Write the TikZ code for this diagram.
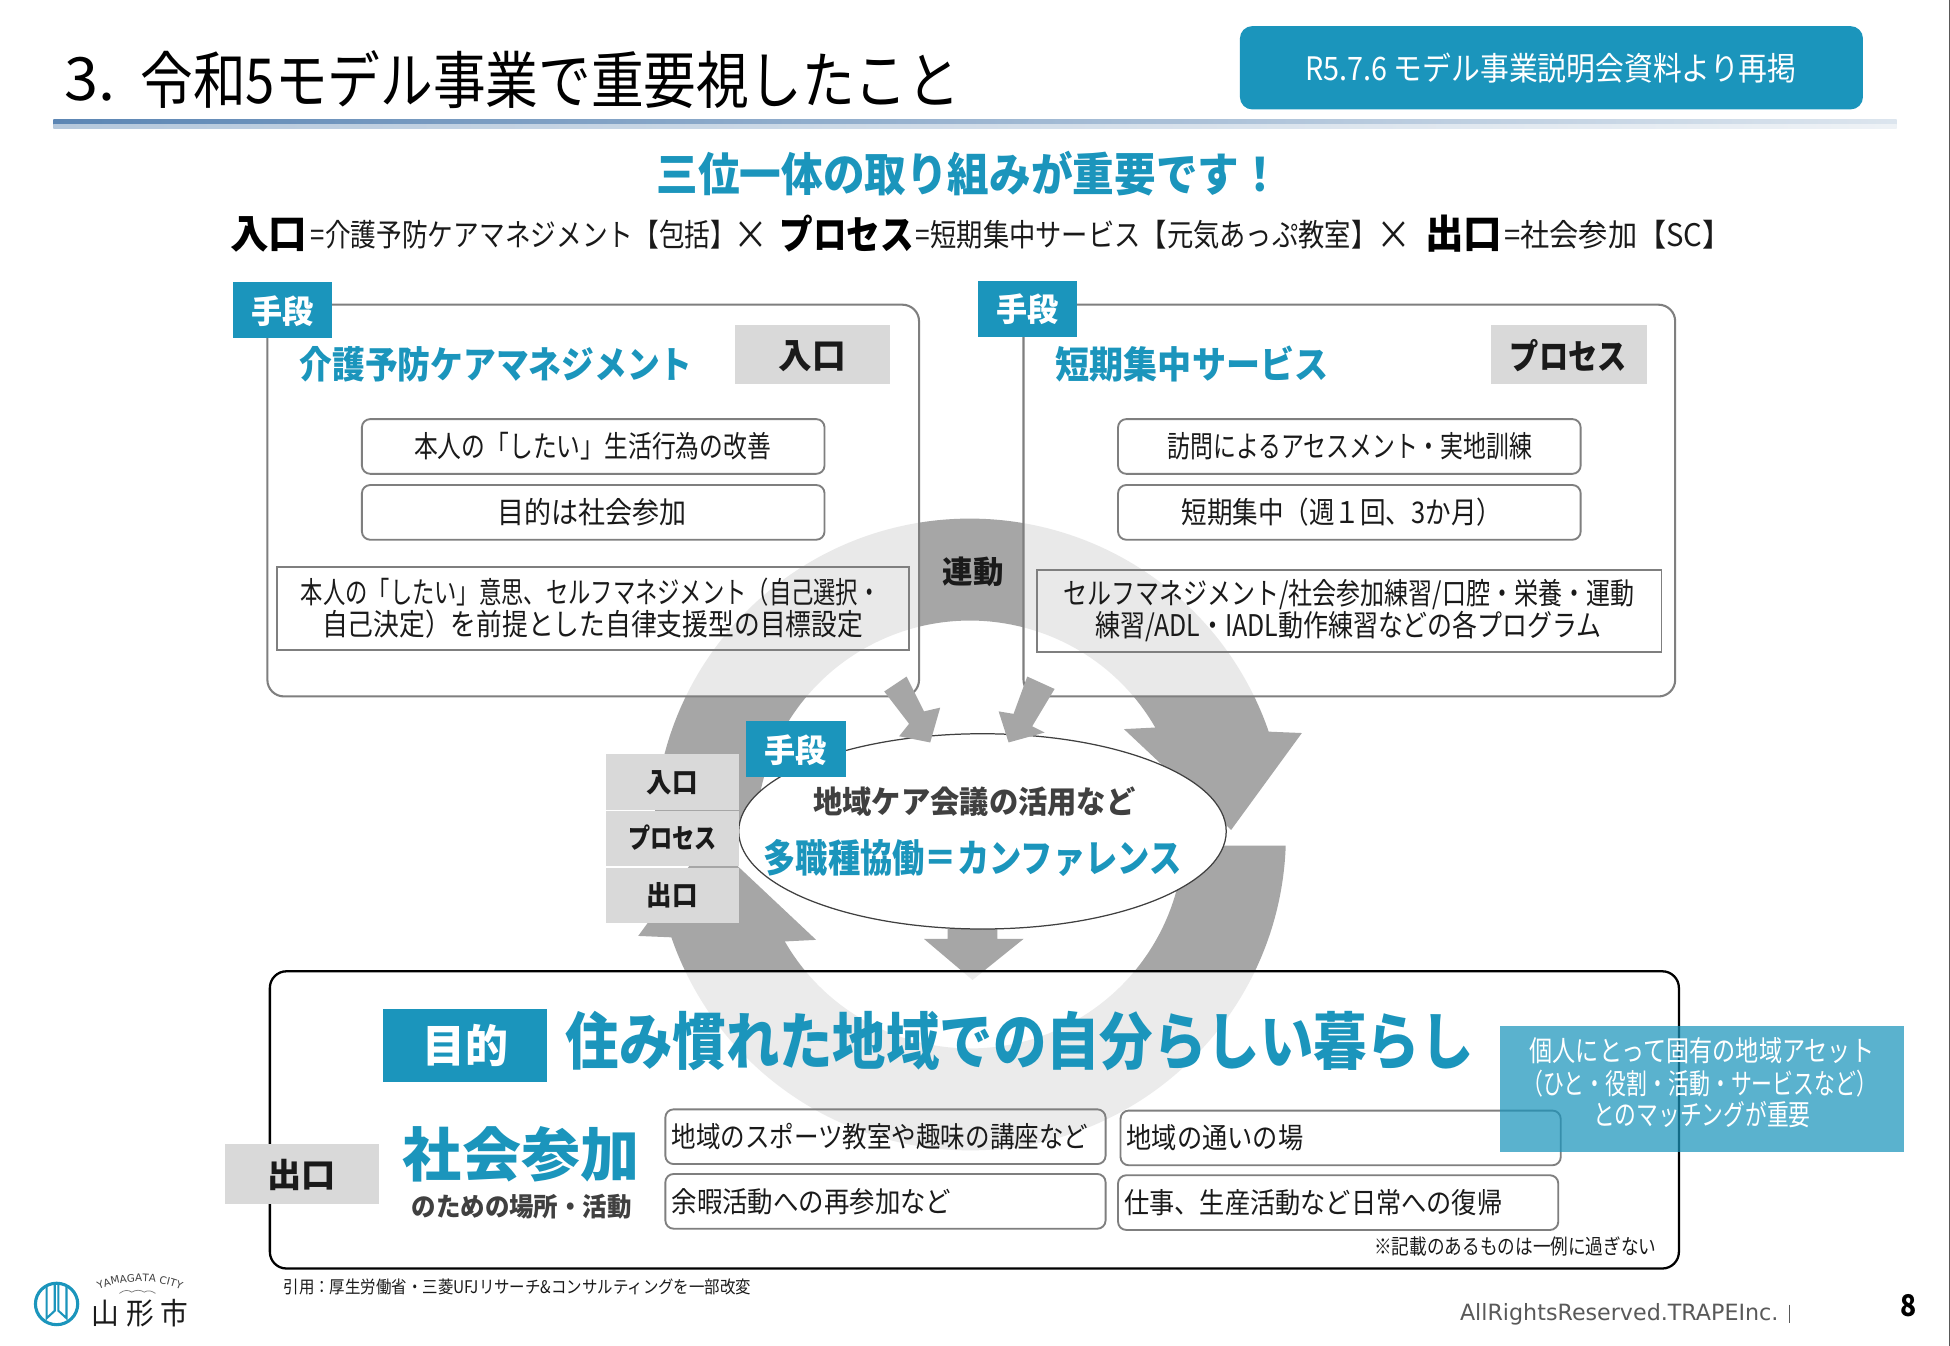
\documentclass[tikz,border=0pt]{standalone}
\usepackage{graphicx}
\usepackage{fontspec}
\setmainfont{Noto Sans CJK JP}
\newfontfamily\vfont{DejaVu Sans}
\usetikzlibrary{decorations.text,shapes.geometric}
\definecolor{teal1}{HTML}{1B95BC}
\definecolor{tagbg}{HTML}{D9D9D9}
\definecolor{ringc}{HTML}{A6A6A6}
\definecolor{linec}{HTML}{7F7F7F}
\definecolor{dark1}{HTML}{404040}
\definecolor{ink}{HTML}{1A1A1A}
\definecolor{foot}{HTML}{595959}
\definecolor{ruleL}{HTML}{5C86B4}
\definecolor{ruleR}{HTML}{DCE5EE}
\definecolor{ruleLb}{HTML}{B5C8DC}
\definecolor{ruleRb}{HTML}{EEF2F6}
\newcommand\usz[1]{\fontsize{\fpeval{#1*0.6}pt}{\fpeval{#1*0.72}pt}\selectfont}
\makeatletter
\newcommand\fitw[2]{\setbox0\hbox{#2}\edef\fitr{\fpeval{(#1*0.6)/\strip@pt\wd0}}\scalebox{\fitr}[1]{\box0}}
\makeatother
% name, cx, cy, width, size, colour, text
\newcommand\TX[7]{\node[text=#6,inner sep=0pt,anchor=center] (#1) at (#2,#3) {\fitw{#4}{\usz{#5}\vphantom{国}#7}};}
\newcommand\TB[7]{\node[text=#6,inner sep=0pt,anchor=center] (#1) at (#2,#3) {\fitw{#4}{\usz{#5}\bfseries\vphantom{国}#7}};}
% name, x1,y1,x2,y2, style
\newcommand\BX[6]{\node[#6,inner sep=0pt,minimum width={\fpeval{(#4-#2)*0.6}pt},minimum height={\fpeval{(#5-#3)*0.6}pt}] (#1) at ({(#2+#4)/2},{(#3+#5)/2}) {};}
\tikzset{
 panel/.style={draw=linec,line width=1pt,rounded corners=8pt,fill=white,fill opacity=0.76,draw opacity=1},
 goalpanel/.style={draw=black,line width=1.1pt,rounded corners=8pt,fill=white,fill opacity=0.78,draw opacity=1},
 pill/.style={draw=linec,line width=0.9pt,rounded corners=4pt},
 frame/.style={draw=linec,line width=0.9pt},
 tag/.style={fill=teal1},
 greytag/.style={fill=tagbg},
 banner/.style={fill=teal1,rounded corners=6pt},
 overlaybox/.style={fill=teal1,fill opacity=0.72},
 bigring/.style={fill=ringc},
 confer/.style={draw=dark1,line width=0.6pt,fill=white,ellipse},
 logoline/.style={draw=teal1,line width=1.5pt},
}
\begin{document}
\begin{tikzpicture}[x=0.6pt,y=-0.6pt]
\useasboundingbox (0,0) rectangle (1568,1082.3);
\fill[white] (0,0) rectangle (1568,1082.3);
% ring arrows
\foreach \rr in {0,180}{
\begin{scope}[shift={(780,671)},x=0.6pt,y=0.6pt,rotate=\rr]
\fill[bigring] (178:254) arc[start angle=178,end angle=19,radius=152.4pt]
  -- (17:279) -- (1:210) -- (34.4:150) -- (30:172)
  arc[start angle=30,end angle=177,radius=103.2pt] -- cycle;
\end{scope}}
% down arrow
\fill[bigring] (762,747) -- (802,747) -- (802,755) -- (823,755) -- (782,788) -- (743,755) -- (762,755) -- cycle;
% panels
\BX{inpanel}{215}{245}{739}{560}{panel}
\BX{procpanel}{823}{245}{1347}{560}{panel}
\BX{goal}{217}{781}{1350}{1020}{goalpanel}
% conference ellipse
\node[confer,inner sep=0pt,minimum width=235.2pt,minimum height=94.2pt] (conf) at (790,668.5) {};
% small arrows
\fill[bigring] (711,556) -- (729,544) -- (743,572) -- (756,569) -- (748,597) -- (723,592) -- (731,582) -- cycle;
\fill[bigring] (826,544) -- (848,554) -- (830,584) -- (840,589) -- (811,597) -- (803,572) -- (815,574) -- cycle;
% title
\TX{titleno}{72.5}{64}{41}{48}{black}{3.}
\TX{title}{442.5}{64}{659}{50}{black}{令和5モデル事業で重要視したこと}
\shade[left color=ruleL,right color=ruleR] (43,96) rectangle (1525,100);
\shade[left color=ruleLb,right color=ruleRb] (43,100) rectangle (1525,103);
\BX{note}{997}{21}{1498}{88}{banner}
\TX{notetext}{1247}{55}{395}{26}{white}{R5.7.6 モデル事業説明会資料より再掲}
% headline
\TB{head}{779}{140}{502}{37}{teal1}{三位一体の取り組みが重要です！}
\TB{hA}{216}{188}{62}{32}{black}{入口}
\TX{hB}{421}{189}{342}{25}{ink}{=介護予防ケアマネジメント【包括】}
\TX{hX}{604}{189}{28}{32}{ink}{×}
\TB{hC}{681}{188}{108}{32}{black}{プロセス}
\TX{hD}{922}{189}{371}{25}{ink}{=短期集中サービス【元気あっぷ教室】}
\TX{hY}{1121}{189}{28}{32}{ink}{×}
\TB{hE}{1177}{188}{62}{32}{black}{出口}
\TX{hF}{1301}{189}{183}{25}{ink}{=社会参加【SC】}
% tags
\BX{tagA}{187}{227}{267}{272}{tag}
\TB{tagAt}{227}{250}{50}{26}{white}{手段}
\BX{tagB}{786}{226}{866}{271}{tag}
\TB{tagBt}{826}{249}{50}{26}{white}{手段}
\TB{ttlA}{399}{293}{316}{30}{teal1}{介護予防ケアマネジメント}
\TB{ttlB}{958.5}{293}{219}{30}{teal1}{短期集中サービス}
\BX{gA}{591}{261}{716}{309}{greytag}
\TB{gAt}{653}{286}{54}{28}{ink}{入口}
\BX{gB}{1199}{261}{1324}{309}{greytag}
\TB{gBt}{1261}{286}{94}{28}{ink}{プロセス}
% left panel
\BX{pA1}{291}{337}{663}{381}{pill}
\TX{pA1t}{476.5}{359}{287}{24}{ink}{本人の「したい」生活行為の改善}
\BX{pA2}{291}{390}{663}{434}{pill}
\TX{pA2t}{476}{412}{152}{24}{ink}{目的は社会参加}
\BX{fA}{223}{456}{731}{523}{frame}
\TX{fA1}{475}{476}{466}{24}{ink}{本人の「したい」意思、セルフマネジメント（自己選択・}
\TX{fA2}{476.5}{502}{435}{24}{ink}{自己決定）を前提とした自律支援型の目標設定}
% right panel
\BX{pB1}{899}{337}{1271}{381}{pill}
\TX{pB1t}{1085.5}{359}{293}{24}{ink}{訪問によるアセスメント・実地訓練}
\BX{pB2}{899}{390}{1271}{434}{pill}
\TX{pB2t}{1079}{412}{258}{24}{ink}{短期集中（週１回、3か月）}
\BX{fB}{834}{458}{1336}{524}{frame}
\TX{fB1}{1084.5}{478}{459}{24}{ink}{セルフマネジメント/社会参加練習/口腔・栄養・運動}
\TX{fB2}{1084.5}{504}{407}{24}{ink}{練習/ADL・IADL動作練習などの各プログラム}
\TB{link}{782.5}{460}{49}{25}{ink}{連動}
% middle tags
\BX{mTag}{600}{580}{680}{625}{tag}
\TB{mTagt}{640}{603}{50}{26}{white}{手段}
\BX{m1}{487}{606}{594}{651}{greytag}
\TB{m1t}{540.5}{629}{41}{22}{ink}{入口}
\BX{m2}{487}{652}{594}{696}{greytag}
\TB{m2t}{540.5}{674}{71}{22}{ink}{プロセス}
\BX{m3}{487}{698}{594}{742}{greytag}
\TB{m3t}{540.5}{720}{41}{22}{ink}{出口}
\TB{conf1}{783.5}{645}{259}{25}{dark1}{地域ケア会議の活用など}
\TB{conf2}{782}{690}{336}{31}{teal1}{多職種協働＝カンファレンス}
% goal
\BX{goalTag}{308}{811}{440}{870}{tag}
\TB{goalTagt}{374}{841}{69}{36}{white}{目的}
\TB{goal1}{820}{837}{730}{50}{teal1}{住み慣れた地域での自分らしい暮らし}
\BX{gC}{181}{920}{305}{968}{greytag}
\TB{gCt}{242.5}{945}{55}{27}{ink}{出口}
\TB{sc1}{419}{928}{190}{47}{teal1}{社会参加}
\TB{sc2}{419.5}{970}{177}{21}{dark1}{のための場所・活動}
\BX{q1}{535}{892}{889}{936}{pill}
\TX{q1t}{707.5}{914}{335}{23}{ink}{地域のスポーツ教室や趣味の講座など}
\BX{q2}{901}{893}{1255}{937}{pill}
\TX{q2t}{977}{915}{142}{23}{ink}{地域の通いの場}
\BX{q3}{535}{944}{889}{988}{pill}
\TX{q3t}{652.5}{966}{225}{23}{ink}{余暇活動への再参加など}
\BX{q4}{899}{945}{1253}{989}{pill}
\TX{q4t}{1056}{967}{304}{23}{ink}{仕事、生産活動など日常への復帰}
\TX{fine}{1218.5}{1002}{227}{17}{ink}{※記載のあるものは一例に過ぎない}
% overlay
\BX{ovl}{1206}{825}{1531}{926}{overlaybox}
\TX{ov1}{1368.5}{845}{277}{23}{white}{個人にとって固有の地域アセット}
\TX{ov2}{1367}{871}{285}{23}{white}{（ひと・役割・活動・サービスなど）}
\TX{ov3}{1368.5}{896}{175}{23}{white}{とのマッチングが重要}
% footer
\TX{cite}{416}{1035}{376}{14}{ink}{引用：厚生労働省・三菱UFJリサーチ\&コンサルティングを一部改変}
\node[text=foot,inner sep=0pt] (rights) at (1302,1057) {\fitw{256}{\usz{18}\vfont AllRightsReserved.TRAPEInc.}};
\draw[foot,line width=0.6pt] (1439,1049) -- (1439,1064);
\TB{page}{1534.5}{1050}{13}{24}{black}{8}
\draw[foot,line width=0.5pt] (1567.4,0) -- (1567.4,1082.3);
% logo
\draw[logoline] (45.5,1048.5) ellipse[x radius=10.2pt,y radius=10pt];
\draw[logoline,line width=1pt] (37.5,1034) -- (37.5,1060) -- (44,1054) -- (44,1032);
\draw[logoline,line width=1pt] (53.5,1034) -- (53.5,1060) -- (47,1054) -- (47,1032);
\TX{city}{112.5}{1056}{78}{24}{ink}{山\hspace{.25em}形\hspace{.25em}市}
\path[decorate,decoration={text along path,text align=center,text={|\vfont\fontsize{5pt}{6pt}\selectfont\color{dark1}|YAMAGATA CITY}}]
  (72,1041) .. controls (92,1027) and (132,1027) .. (153,1041);
\draw[linec,line width=0.35pt] (96,1040) .. controls (100,1037) and (103,1037) .. (106,1039) .. controls (109,1037) and (113,1037) .. (116,1039) .. controls (119,1037) and (122,1038) .. (125,1040);
\end{tikzpicture}
\end{document}
